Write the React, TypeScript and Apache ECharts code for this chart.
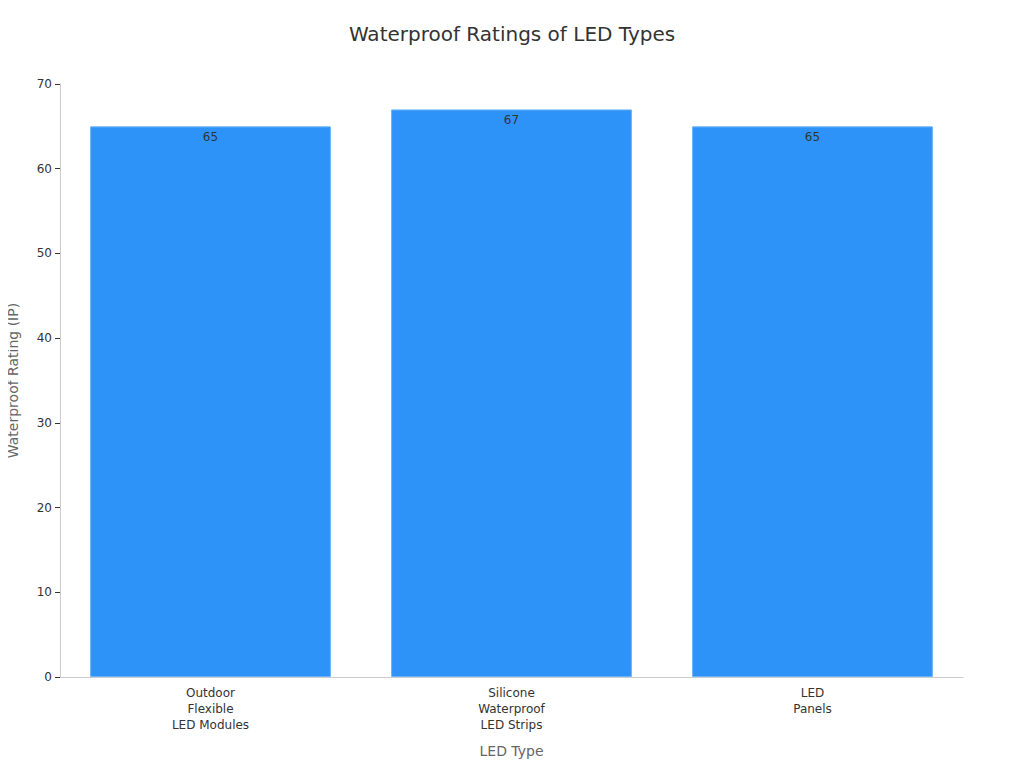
import React, { useEffect, useRef } from 'react';
import * as echarts from 'echarts';

const categories = ['Outdoor\nFlexible\nLED Modules', 'Silicone\nWaterproof\nLED Strips', 'LED\nPanels'];
const ratings = [65, 67, 65];
const yTicks = { min: 0, max: 70, interval: 10 };

const App = () => {
  const chartRef = useRef<HTMLDivElement>(null);

  useEffect(() => {
    const chart = echarts.init(chartRef.current, null, { renderer: 'svg' });
    chart.setOption({
      animation: false,
      textStyle: { fontFamily: 'DejaVu Sans' },
      title: {
        text: 'Waterproof Ratings of LED Types',
        left: 'center',
        top: 19,
        textStyle: { fontSize: 20, fontWeight: 'normal', color: '#333' },
      },
      grid: { left: 60, right: 61, top: 84, bottom: 91, outerBoundsMode: 'none', containLabel: false },
      xAxis: {
        type: 'category',
        data: categories,
        name: 'LED Type',
        nameLocation: 'middle',
        nameGap: 67,
        nameTextStyle: { fontSize: 14, color: '#666' },
        axisLine: { lineStyle: { color: '#ccc' } },
        axisTick: { alignWithLabel: true, lineStyle: { color: '#333' } },
        axisLabel: { fontSize: 12, color: '#333', lineHeight: 16, margin: 8 },
      },
      yAxis: {
        type: 'value',
        ...yTicks,
        name: 'Waterproof Rating (IP)',
        nameLocation: 'middle',
        nameGap: 40,
        nameTextStyle: { fontSize: 14, color: '#666' },
        axisLine: { show: true, lineStyle: { color: '#ccc' } },
        axisTick: { show: true, lineStyle: { color: '#333' } },
        axisLabel: { fontSize: 12, color: '#333' },
        splitLine: { show: false },
      },
      series: [
        {
          type: 'bar',
          data: ratings,
          barCategoryGap: '20%',
          itemStyle: { color: '#2e93f8', borderColor: '#6ab3fa', borderWidth: 1 },
          label: {
            show: true,
            position: 'insideTop',
            distance: 5,
            fontSize: 12,
            color: '#333',
          },
        },
      ],
    });
    return () => {
      chart.dispose();
    };
  }, []);

  return <div ref={chartRef} style={{ width: '1024px', height: '768px', margin: '-8px' }}></div>;
};

export default App;
